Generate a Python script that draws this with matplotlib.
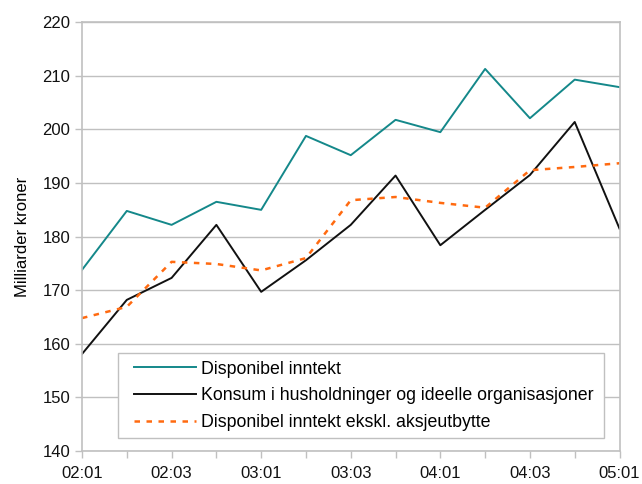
import matplotlib
matplotlib.use("Agg")
import matplotlib.pyplot as plt
from matplotlib.patches import Rectangle
import numpy as np

quarters = ["02:01", "02:02", "02:03", "02:04", "03:01", "03:02", "03:03",
            "03:04", "04:01", "04:02", "04:03", "04:04", "05:01"]
disponibel = [173.8, 184.8, 182.2, 186.5, 185.0, 198.8, 195.2,
              201.8, 199.5, 211.3, 202.1, 209.3, 207.9]
konsum = [158.1, 168.2, 172.3, 182.2, 169.7, 175.6, 182.2,
          191.4, 178.4, 185.0, 191.5, 201.4, 181.5]
eksakje = [164.8, 166.9, 175.3, 174.9, 173.7, 176.0, 186.8,
           187.4, 186.3, 185.4, 192.4, 193.0, 193.7]
labels = ["Disponibel inntekt",
          "Konsum i husholdninger og ideelle organisasjoner",
          "Disponibel inntekt ekskl. aksjeutbytte"]

plt.rcParams['font.family'] = ['Liberation Sans', 'DejaVu Sans']
W, H = 642, 484
L, R, T, B = 82, 619.5, 22.3, 451
fig = plt.figure(figsize=(W/100, H/100), dpi=100)
ax = fig.add_axes([L/W, 1 - B/H, (R-L)/W, (B-T)/H])

def ax_xy(px, py):
    return (px - L) / (R - L), (B - py) / (B - T)

x = np.arange(len(quarters))
ax.plot(x, disponibel, color="#14888A", lw=1.4, label=labels[0])
ax.plot(x, konsum, color="#111111", lw=1.4, label=labels[1])
ax.plot(x, eksakje, color="#FF6A10", lw=1.8, ls=(0, (2.2, 2.6)), label=labels[2])

ax.set_xlim(0, len(quarters) - 1)
ax.set_ylim(140, 220)
ax.set_yticks(np.arange(140, 221, 10))
ax.set_xticks(x[::2])
ax.set_xticklabels(quarters[::2])
ax.set_xticks(x, minor=True)
ax.grid(axis='y', color="#C0C0C0", lw=1.0)
ax.set_axisbelow(True)
for s in ax.spines.values():
    s.set_color("#C0C0C0")
    s.set_linewidth(1.2)
ax.tick_params(axis='both', which='both', color="#C0C0C0", length=5, width=1.0,
               labelsize=12, labelcolor="#111111")
ax.tick_params(axis='x', pad=6)
ax.set_ylabel("Milliarder kroner", fontsize=12, labelpad=9)

# legend frame
x0, y0 = ax_xy(118, 438)
x1, y1 = ax_xy(604, 352.7)
ax.add_patch(Rectangle((x0, y0), x1 - x0, y1 - y0, transform=ax.transAxes,
                       facecolor="white", edgecolor="#C0C0C0", lw=1.0, zorder=4))
lx, ly = ax_xy(134, 360.5)
leg = ax.legend(loc='upper left', bbox_to_anchor=(lx, ly), frameon=False,
                fontsize=12.8, handlelength=3.48, borderaxespad=0, borderpad=0,
                labelspacing=0.56, handletextpad=0.28)
leg.set_zorder(5)

fig.savefig("out.png", dpi=100)
